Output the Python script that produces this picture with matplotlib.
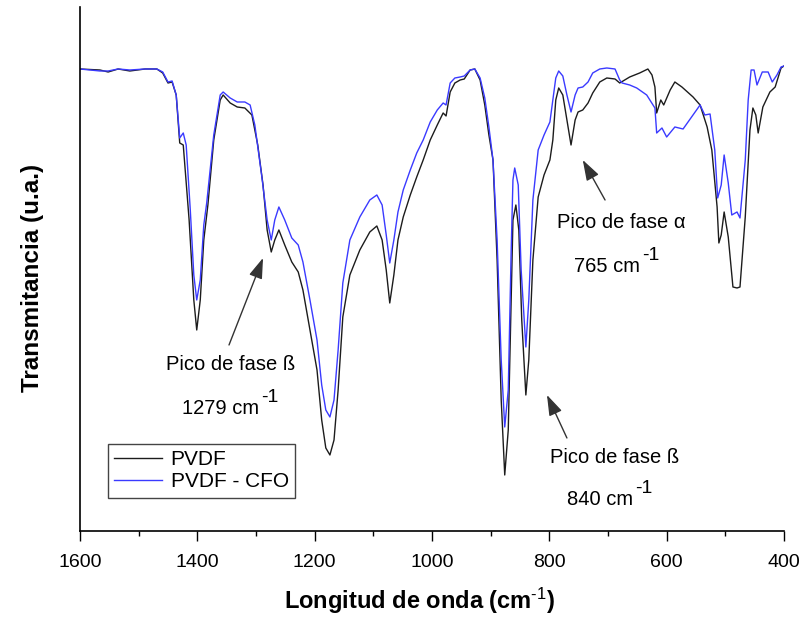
import matplotlib
matplotlib.use("Agg")
import matplotlib.pyplot as plt

plt.rcParams["font.family"] = ["Liberation Sans", "DejaVu Sans"]
plt.rcParams["mathtext.fontset"] = "custom"
plt.rcParams["mathtext.rm"] = "Liberation Sans"
plt.rcParams["mathtext.it"] = "Liberation Sans:italic"
plt.rcParams["mathtext.bf"] = "Liberation Sans:bold"

# PVDF spectrum (wavenumber cm-1, transmittance a.u.)
pvdf_wn = [1600, 1566, 1552, 1535, 1515, 1489, 1469, 1459, 1450, 1443, 1436, 1430, 1424,
           1414, 1406, 1401, 1395, 1389, 1382, 1372, 1361, 1356, 1344, 1332, 1319, 1307,
           1297, 1288, 1281, 1274, 1268, 1261, 1251, 1239, 1228, 1220, 1208, 1196, 1188,
           1181, 1174, 1167, 1160, 1152, 1140, 1123, 1106, 1094, 1085, 1078, 1072, 1065,
           1058, 1049, 1037, 1026, 1015, 1003, 991, 981, 976, 969, 961, 952, 945, 935, 927,
           918, 910, 903, 896, 889, 882, 876, 870, 865, 862, 857, 852, 847, 840, 835, 828,
           819, 809, 799, 794, 789, 784, 777, 770, 763, 756, 751, 743, 734, 726, 714, 702,
           688, 680, 663, 646, 632, 625, 620, 617, 610, 605, 594, 586, 574, 555, 543, 531,
           523, 514, 511, 507, 502, 495, 487, 480, 475, 466, 458, 453, 448, 444, 436, 424,
           415, 405, 400]
pvdf_t = [462, 461, 459, 462, 460, 462, 462, 458, 448, 449, 436, 388, 386,
          311, 231, 201, 231, 291, 326, 391, 431, 436, 428, 424, 423, 416,
          386, 346, 301, 279, 291, 301, 286, 269, 259, 241, 201, 161, 111,
          83, 76, 91, 141, 214, 256, 281, 299, 305, 291, 261, 228, 256,
          291, 314, 336, 354, 371, 391, 406, 418, 415, 439, 448, 451, 452, 461, 462,
          451, 426, 396, 371, 271, 131, 56, 101, 231, 311, 326, 301, 211, 136, 171, 271,
          334, 356, 371, 391, 431, 443, 436, 411, 386, 411, 419, 421, 428, 438, 449, 453,
          452, 448, 454, 458, 462, 456, 444, 418, 431, 426, 441, 449, 444, 434, 426, 404,
          381, 324, 288, 296, 319, 294, 244, 243, 244, 314, 401, 423, 416, 398, 424, 439,
          444, 463, 465]

# PVDF - CFO spectrum
cfo_wn = [1600, 1566, 1552, 1535, 1515, 1489, 1469, 1459, 1450, 1443, 1436, 1430, 1424,
          1419, 1412, 1406, 1401, 1395, 1389, 1384, 1372, 1361, 1356, 1344, 1332, 1319,
          1310, 1302, 1290, 1281, 1274, 1268, 1261, 1251, 1239, 1228, 1220, 1208, 1196,
          1188, 1181, 1174, 1167, 1160, 1152, 1140, 1123, 1106, 1094, 1085, 1078, 1072,
          1065, 1058, 1049, 1037, 1026, 1015, 1003, 991, 981, 976, 969, 961, 952, 945, 935,
          927, 918, 910, 903, 896, 889, 882, 876, 870, 865, 862, 859, 853, 848, 840, 835,
          828, 819, 809, 799, 794, 789, 784, 777, 770, 763, 756, 751, 743, 734, 726, 714,
          702, 688, 680, 676, 663, 651, 634, 620, 617, 608, 600, 586, 572, 555, 543, 535,
          526, 518, 513, 507, 502, 495, 489, 480, 475, 466, 461, 456, 451, 446, 437, 427,
          420, 412, 405, 400]
cfo_t = [462, 460, 460, 462, 461, 462, 462, 459, 449, 450, 436, 393, 398,
         386, 321, 256, 231, 251, 306, 328, 396, 436, 439, 433, 429, 429,
         426, 406, 354, 311, 291, 311, 324, 311, 293, 286, 269, 231, 191,
         146, 121, 114, 131, 181, 248, 291, 314, 331, 336, 326, 296, 268,
         291, 319, 341, 361, 378, 391, 409, 421, 428, 426, 448, 453, 454, 455, 461,
         462, 453, 433, 404, 371, 291, 171, 104, 141, 281, 351, 363, 346, 261, 184, 231,
         331, 381, 396, 409, 431, 453, 460, 455, 436, 419, 436, 443, 444, 449, 458, 462,
         463, 462, 451, 448, 446, 443, 436, 423, 398, 403, 394, 404, 402, 416, 426, 416,
         417, 381, 333, 346, 376, 348, 316, 319, 313, 371, 431, 461, 461, 446, 459, 459,
         449, 456, 464, 465]

series_labels = ["PVDF", "PVDF - CFO"]
series_colors = ["#1c1c1c", "#3a3aff"]

# annotations: (title, peak label, title x, title y, label x, label baseline y, arrow tail, arrow tip)
peak_notes = [
    ("Pico de fase \u00df", "1279 cm", 1343, 166, 1360, 117, (1346, 186), (1288, 273)),
    ("Pico de fase \u00df", "840 cm", 688, 73, 714, 26, (770, 93), (804, 136)),
    ("Pico de fase \u03b1", "765 cm", 678, 308, 701, 259, (705, 331), (743, 371)),
]

fig = plt.figure(figsize=(8.04, 6.19), dpi=100)
ax = fig.add_axes([0.0995, 0.1422, 0.8756, 0.8465])

ax.plot(pvdf_wn, pvdf_t, color=series_colors[0], lw=1.0, label=series_labels[0])
ax.plot(cfo_wn, cfo_t, color=series_colors[1], lw=1.0, label=series_labels[1])

for title, sub, tx, ty, lx, by, tail, tip in peak_notes:
    ax.text(tx, ty, title, ha="center", va="center", fontsize=14.5)
    base = ax.text(lx, by, sub, ha="center", va="baseline", fontsize=14.5)
    ax.annotate("-1", xy=(1, 1), xycoords=base, xytext=(1.5, -2.5),
                textcoords="offset points", ha="left", va="baseline", fontsize=14)
    ax.annotate("", xy=tip, xytext=tail,
                arrowprops=dict(arrowstyle="-|>,head_length=0.9,head_width=0.3",
                                color="#333333", lw=1.0, shrinkA=0, shrinkB=0,
                                mutation_scale=14))

ax.set_xlim(1600, 400)
ax.set_ylim(0, 524)
ax.set_xticks([1600, 1400, 1200, 1000, 800, 600, 400])
ax.set_xticks([1500, 1300, 1100, 900, 700, 500], minor=True)
ax.set_yticks([])
ax.tick_params(axis="x", which="major", length=7.5, width=1.0, pad=9, labelsize=14)
ax.tick_params(axis="x", which="minor", length=3.8, width=1.0)
ax.spines["top"].set_visible(False)
ax.spines["right"].set_visible(False)
ax.spines["left"].set_linewidth(1.2)
ax.spines["bottom"].set_linewidth(1.2)

ax.set_xlabel("Longitud de onda (cm$^{\\text{-}1}$)", fontsize=17, fontweight="bold")
ax.xaxis.set_label_coords(0.483, -0.105)
ax.set_ylabel("Transmitancia (u.a.)", fontsize=17.5, fontweight="bold")
ax.yaxis.set_label_coords(-0.051, 0.483)

leg = ax.legend(loc="upper left", bbox_to_anchor=(0.040, 0.166), borderaxespad=0,
                fontsize=15, handlelength=2.3, handletextpad=0.4, labelspacing=0.15,
                borderpad=0.3, fancybox=False, framealpha=1, edgecolor="#444444")
leg.get_frame().set_linewidth(1.0)

fig.savefig("out.png", dpi=100)
